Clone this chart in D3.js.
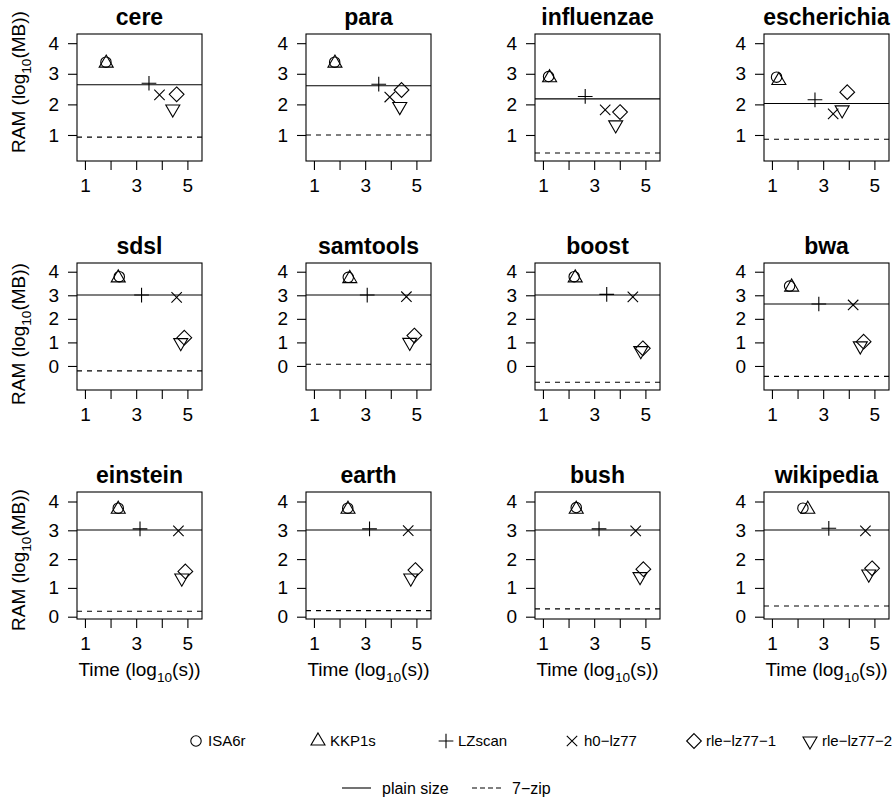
<!DOCTYPE html>
<html><head><meta charset="utf-8">
<script src="https://cdn.jsdelivr.net/npm/d3@7"></script>
<style>
body{margin:0;background:#fff}
svg{display:block}
text{font-family:"Liberation Sans",Arial,Helvetica,sans-serif;fill:#000}
</style>
</head><body>
<script>
// ---------- data ----------
const datasets = ["cere","para","influenzae","escherichia","sdsl","samtools","boost","bwa","einstein","earth","bush","wikipedia"];
const methods = ["ISA6r","KKP1s","LZscan","h0\u2212lz77","rle\u2212lz77\u22121","rle\u2212lz77\u22122"];
// time = log10(s), ram = log10(MB), one value per dataset
const timeISA6r = [1.82,1.81,1.22,1.18, 2.34,2.34,2.22,1.69, 2.30,2.32,2.30,2.21];
const ramISA6r  = [3.38,3.38,2.91,2.89, 3.79,3.76,3.79,3.39, 3.77,3.77,3.79,3.77];
const timeKKP1s = [1.83,1.82,1.26,1.27, 2.30,2.40,2.26,1.77, 2.30,2.33,2.30,2.40];
const ramKKP1s  = [3.35,3.35,2.87,2.78, 3.74,3.71,3.74,3.35, 3.73,3.73,3.73,3.73];
const timeLZscan = [3.50,3.53,2.65,2.68, 3.21,3.08,3.49,2.83, 3.15,3.17,3.19,3.22];
const ramLZscan  = [2.69,2.66,2.26,2.15, 3.01,3.01,3.04,2.63, 3.05,3.05,3.05,3.07];
const timeH0lz77 = [3.91,3.96,3.43,3.39, 4.58,4.61,4.51,4.17, 4.65,4.68,4.62,4.65];
const ramH0lz77  = [2.31,2.24,1.82,1.69, 2.91,2.94,2.93,2.59, 2.98,2.99,2.98,2.98];
const timeRle1 = [4.58,4.42,4.01,3.94, 4.88,4.92,4.90,4.58, 4.92,4.96,4.92,4.91];
const ramRle1  = [2.33,2.47,1.75,2.40, 1.20,1.29,0.75,1.03, 1.57,1.62,1.65,1.68];
const timeRle2 = [4.43,4.35,3.84,3.74, 4.74,4.74,4.82,4.45, 4.78,4.78,4.79,4.78];
const ramRle2  = [1.85,1.93,1.33,1.82, 0.99,1.00,0.65,0.85, 1.34,1.34,1.39,1.48];
const plainSize = [2.64,2.61,2.18,2.03, 3.01,3.01,3.01,2.63, 3.01,3.01,3.01,3.01];
const sevenZip  = [0.93,1.00,0.41,0.86, -0.21,0.07,-0.69,-0.44, 0.19,0.21,0.27,0.37];
const xTickValues = [1,2,3,4,5];
const xTickLabels = ["1","","3","","5"];
const yTickRows = [[1,2,3,4],[0,1,2,3,4],[0,1,2,3,4]];
const yDomainRows = [[0.15,4.30],[-1.02,4.37],[-0.08,4.33]];
const xDomain = [0.69,5.57];
const lineLegend = ["plain size","7\u2212zip"];

const seriesTime = [timeISA6r,timeKKP1s,timeLZscan,timeH0lz77,timeRle1,timeRle2];
const seriesRam  = [ramISA6r,ramKKP1s,ramLZscan,ramH0lz77,ramRle1,ramRle2];

// ---------- layout ----------
const W = 895, H = 800;
const colLeft = [77,306,535,764], rowTop = [34,263,492];
const yTitleCenter = [82,334,560];
const pw = 125, ph = 127;
const FS = 19, TFS = 23;
const RAD = 5.2;

const svg = d3.select("body").append("svg").attr("width",W).attr("height",H);

function symPath(k){
  const r = RAD, tr = 1.5551*r, xc = 0.866*tr, p = 1.4142*r;
  switch(k){
    case 0: return `M${-r},0A${r},${r} 0 1,0 ${r},0A${r},${r} 0 1,0 ${-r},0Z`;
    case 1: return `M0,${-tr}L${xc},${tr/2}L${-xc},${tr/2}Z`;
    case 2: return `M${-p},0H${p}M0,${-p}V${p}`;
    case 3: return `M${-r},${-r}L${r},${r}M${-r},${r}L${r},${-r}`;
    case 4: return `M0,${-p}L${p},0L0,${p}L${-p},0Z`;
    case 5: return `M0,${tr}L${xc},${-tr/2}L${-xc},${-tr/2}Z`;
  }
}

function subText(sel, before, sub, after, size){
  sel.append("tspan").text(before);
  sel.append("tspan").attr("dy", size*0.3).attr("font-size", size*0.72).text(sub);
  sel.append("tspan").attr("dy", -size*0.3).text(after);
}

datasets.forEach((name,i)=>{
  const r = Math.floor(i/4), c = i%4;
  const x0 = colLeft[c], y0 = rowTop[r];
  const g = svg.append("g").attr("transform",`translate(${x0},${y0})`);
  const x = d3.scaleLinear().domain(xDomain).range([0,pw]);
  const y = d3.scaleLinear().domain(yDomainRows[r]).range([ph,0]);

  const clipId = "clip"+i;
  g.append("clipPath").attr("id",clipId).append("rect").attr("width",pw).attr("height",ph);
  const inner = g.append("g").attr("clip-path",`url(#${clipId})`);

  inner.append("line").attr("x1",0).attr("x2",pw)
    .attr("y1",y(plainSize[i])).attr("y2",y(plainSize[i]))
    .attr("stroke","#000").attr("stroke-width",1.1);
  inner.append("line").attr("x1",0).attr("x2",pw)
    .attr("y1",y(sevenZip[i])).attr("y2",y(sevenZip[i]))
    .attr("stroke","#000").attr("stroke-width",1.1).attr("stroke-dasharray","5,5");

  seriesTime.forEach((ts,k)=>{
    g.append("path").attr("d",symPath(k))
      .attr("transform",`translate(${x(ts[i])},${y(seriesRam[k][i])})`)
      .attr("fill","none").attr("stroke","#000").attr("stroke-width",1.1);
  });

  g.append("rect").attr("x",0).attr("y",0).attr("width",pw).attr("height",ph)
    .attr("fill","none").attr("stroke","#000").attr("stroke-width",1.1);

  const ya = d3.axisLeft(y).tickValues(yTickRows[r]).tickSize(9).tickPadding(9).tickFormat(d3.format("d"));
  const yg = g.append("g").call(ya);
  yg.select(".domain").remove();
  yg.selectAll("text").attr("font-size",FS).attr("font-family",null);
  yg.selectAll("line").attr("stroke-width",1.1);

  const xa = d3.axisBottom(x).tickValues(xTickValues).tickSize(9).tickPadding(9)
    .tickFormat((d,j)=>xTickLabels[j]);
  const xg = g.append("g").attr("transform",`translate(0,${ph})`).call(xa);
  xg.select(".domain").remove();
  xg.selectAll("text").attr("font-size",FS).attr("font-family",null);
  xg.selectAll("line").attr("stroke-width",1.1);

  g.append("text").attr("x",pw/2).attr("y",-9).attr("text-anchor","middle")
    .attr("font-size",TFS).attr("font-weight","bold").text(name);

  if(c===0){
    const t = svg.append("text").attr("transform",`translate(25,${yTitleCenter[r]}) rotate(-90)`)
      .attr("text-anchor","middle").attr("font-size",FS);
    subText(t,"RAM (log","10","(MB))",FS);
  }
  if(r===2){
    const t = g.append("text").attr("x",pw/2).attr("y",ph+57).attr("text-anchor","middle").attr("font-size",FS);
    subText(t,"Time (log","10","(s))",FS);
  }
});

// legend row 1
const legX = [196,318,446,572,694,810];
const legY = 741;
methods.forEach((m,k)=>{
  svg.append("path").attr("d",symPath(k)).attr("transform",`translate(${legX[k]},${legY})`)
    .attr("fill","none").attr("stroke","#000").attr("stroke-width",1.1);
  svg.append("text").attr("x",legX[k]+12).attr("y",legY).attr("dy","0.35em")
    .attr("font-size",15).text(m);
});
// legend row 2
const lineX = [342,472];
const legY2 = 788;
lineLegend.forEach((m,k)=>{
  svg.append("line").attr("x1",lineX[k]).attr("x2",lineX[k]+29).attr("y1",legY2).attr("y2",legY2)
    .attr("stroke","#000").attr("stroke-width",1.1).attr("stroke-dasharray",k===1?"5,3":null);
  svg.append("text").attr("x",lineX[k]+40).attr("y",legY2).attr("dy","0.35em")
    .attr("font-size",16).text(m);
});
</script>
</body></html>
